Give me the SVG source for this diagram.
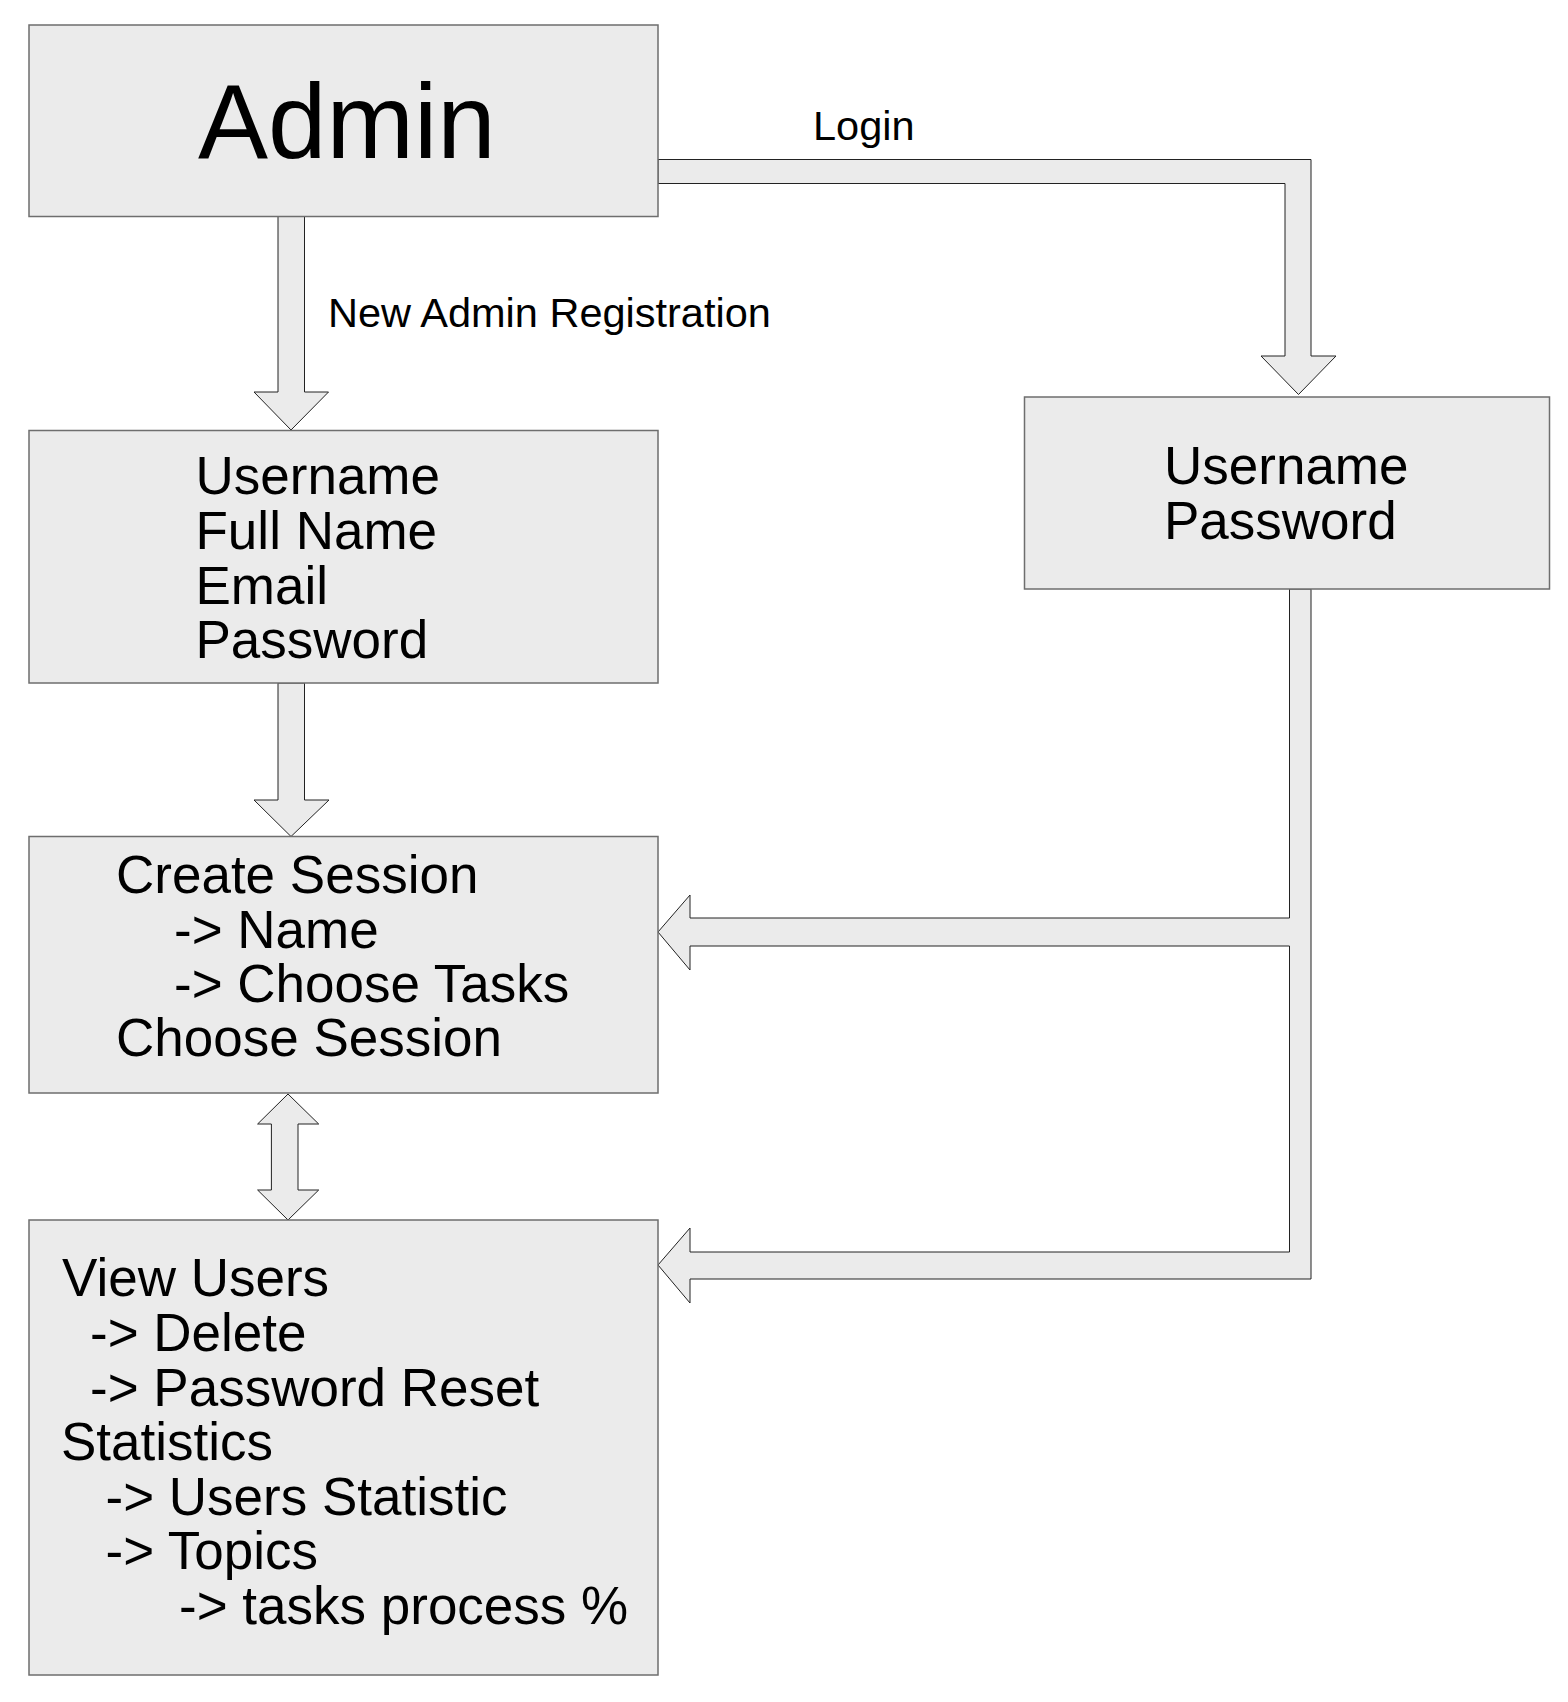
<svg xmlns="http://www.w3.org/2000/svg" width="1568" height="1702" viewBox="0 0 1568 1702">
<style>
.box{fill:#ebebeb;stroke:#6e6e6e;stroke-width:1.5}
.arr{fill:#ebebeb;stroke:#222;stroke-width:1;stroke-linejoin:miter}
text{font-family:"Liberation Sans",Arial,sans-serif;fill:#000}
.t{font-size:53px}
.lbl{font-size:41.5px}
</style>
<rect x="0" y="0" width="1568" height="1702" fill="#ffffff"/>
<g id="connectors">
<polygon class="arr" points="278,216 278,392 254,392 291,430 328.5,392 304.5,392 304.5,216"/>
<polygon class="arr" points="278,683 278,800 254,800 291,836.5 329,800 304.5,800 304.5,683"/>
<polygon class="arr" points="288,1094 318.7,1124 298,1124 298,1190 318.7,1190 288,1220 257.6,1190 271.4,1190 271.4,1124 257.6,1124"/>
<polygon class="arr" points="658,159.5 1311,159.5 1311,356 1336,356 1298.5,394.5 1261,356 1285,356 1285,183.5 658,183.5"/>
<polygon class="arr" points="1289.5,589 1289.5,918 690,918 690,895 658,932 690,970 690,946 1289.5,946 1289.5,1252 690,1252 690,1228 658,1265 690,1303 690,1279 1311,1279 1311,589"/>
<text class="lbl" x="328" y="326.5">New Admin Registration</text>
<text class="lbl" x="813" y="140">Login</text>
</g>
<g id="admin">
<rect class="box" x="29" y="25" width="629" height="191.5"/>
<text x="198" y="158" font-size="105">Admin</text>
</g>
<g id="registration">
<rect class="box" x="29" y="430.5" width="629" height="252.5"/>
<text class="t" x="195.5" y="493.5">Username</text>
<text class="t" x="195.5" y="548.5">Full Name</text>
<text class="t" x="195.5" y="603.5">Email</text>
<text class="t" x="195.5" y="658">Password</text>
</g>
<g id="login">
<rect class="box" x="1024.5" y="397" width="525" height="192"/>
<text class="t" x="1164" y="484">Username</text>
<text class="t" x="1164" y="538.5">Password</text>
</g>
<g id="session">
<rect class="box" x="29" y="836.5" width="629" height="256.5"/>
<text class="t" x="116" y="893">Create Session</text>
<text class="t" x="174" y="948">-&gt; Name</text>
<text class="t" x="174" y="1002">-&gt; Choose Tasks</text>
<text class="t" x="116" y="1056">Choose Session</text>
</g>
<g id="users">
<rect class="box" x="29" y="1220" width="629" height="455"/>
<text class="t" x="62" y="1296">View Users</text>
<text class="t" x="90" y="1351">-&gt; Delete</text>
<text class="t" x="90" y="1405.5">-&gt; Password Reset</text>
<text class="t" x="61" y="1460">Statistics</text>
<text class="t" x="105.5" y="1515">-&gt; Users Statistic</text>
<text class="t" x="105.5" y="1569">-&gt; Topics</text>
<text class="t" x="179" y="1624">-&gt; tasks process %</text>
</g>
</svg>
